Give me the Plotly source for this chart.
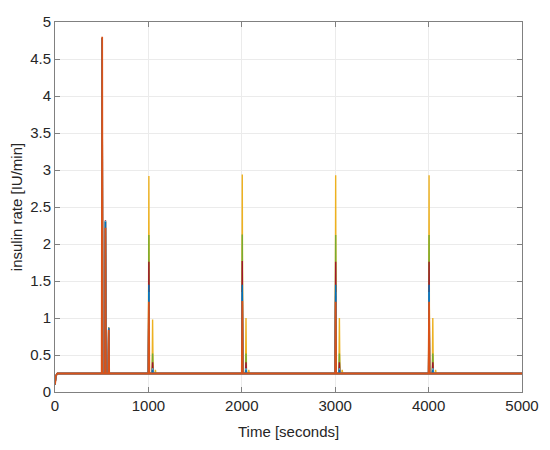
import plotly.graph_objects as go

# ── Data ──────────────────────────────────────────────────────────────────────
# MATLAB default line colours, in draw order (last one ends on top)
COLORS = ["#EDB120", "#7E2F8E", "#77AC30", "#A2142F", "#4DBEEE", "#0072BD", "#D95319"]

# basal insulin rate and start-up ramp
start_t = [0, 10, 25]
start_rate = [0.10, 0.22, 0.25]
basal = 0.25
t_end = 5000

# spike times [s]
bolus_t = [505, 540, 575]
meal_t = [1005, 1045, 1075, 2005, 2045, 2075, 3005, 3045, 3075, 4005, 4045, 4075]

# spike heights per series [IU/min]
bolus_h = [
    [4.78, 2.32, 0.87],   # yellow
    [4.78, 2.32, 0.87],   # purple
    [4.78, 2.31, 0.87],   # green
    [4.78, 2.30, 0.86],   # dark red
    [4.78, 2.31, 0.86],   # cyan
    [4.78, 2.30, 0.86],   # blue
    [4.80, 2.22, 0.84],   # orange
]
meal_h = [
    [2.92, 0.98, 0.30, 2.94, 1.00, 0.30, 2.93, 1.00, 0.30, 2.93, 1.00, 0.30],
    [1.30, 0.30, 0.25, 1.30, 0.30, 0.25, 1.30, 0.30, 0.25, 1.30, 0.30, 0.25],
    [2.12, 0.52, 0.26, 2.13, 0.52, 0.26, 2.12, 0.52, 0.26, 2.12, 0.52, 0.26],
    [1.76, 0.40, 0.25, 1.77, 0.40, 0.25, 1.76, 0.40, 0.25, 1.76, 0.40, 0.25],
    [1.35, 0.32, 0.25, 1.35, 0.32, 0.25, 1.35, 0.32, 0.25, 1.35, 0.32, 0.25],
    [1.45, 0.30, 0.25, 1.45, 0.30, 0.25, 1.45, 0.30, 0.25, 1.45, 0.30, 0.25],
    [1.22, 0.25, 0.25, 1.23, 0.25, 0.25, 1.22, 0.25, 0.25, 1.22, 0.25, 0.25],
]


def build_series(heights):
    xs, ys = list(start_t), list(start_rate)
    for t, h in zip(bolus_t + meal_t, heights):
        xs += [t - 5, t, t + 5]
        ys += [basal, h, basal]
    xs.append(t_end)
    ys.append(basal)
    return xs, ys


fig = go.Figure()
for i, (col, bh, mh) in enumerate(zip(COLORS, bolus_h, meal_h)):
    x, y = build_series(bh + mh)
    top = i == len(COLORS) - 1
    fig.add_trace(go.Scatter(x=x, y=y, mode="lines",
                             line=dict(color=col, width=1.8 if top else 1.4),
                             showlegend=False, hoverinfo="skip"))

AX = dict(showline=True, linecolor="#808080", linewidth=1, mirror="allticks",
          ticks="inside", ticklen=5, tickcolor="#808080", automargin=False,
          showgrid=True, gridcolor="#ebebeb", gridwidth=1, zeroline=False,
          tickfont=dict(size=15, color="#262626"))

fig.update_xaxes(range=[0, 5000], tickvals=[0, 1000, 2000, 3000, 4000, 5000], **AX)
fig.update_yaxes(range=[0, 5], dtick=0.5, tickformat="~g",
                 title=dict(text="insulin rate [IU/min]", font=dict(size=15, color="#262626")),
                 **AX)

# x title as an annotation so it sits a little closer to the tick labels
fig.add_annotation(text="Time [seconds]", xref="paper", yref="paper",
                   x=0.5, y=0, yanchor="top", yshift=-29, showarrow=False,
                   font=dict(size=15, color="#262626"))

# page body adds an 8px offset, so the figure is slightly smaller than the window
fig.update_layout(width=542, height=442,
                  margin=dict(l=47, r=28, t=14, b=58),
                  paper_bgcolor="white", plot_bgcolor="white",
                  font=dict(family="Liberation Sans, Arial, sans-serif"))

fig.write_html("out.html")
